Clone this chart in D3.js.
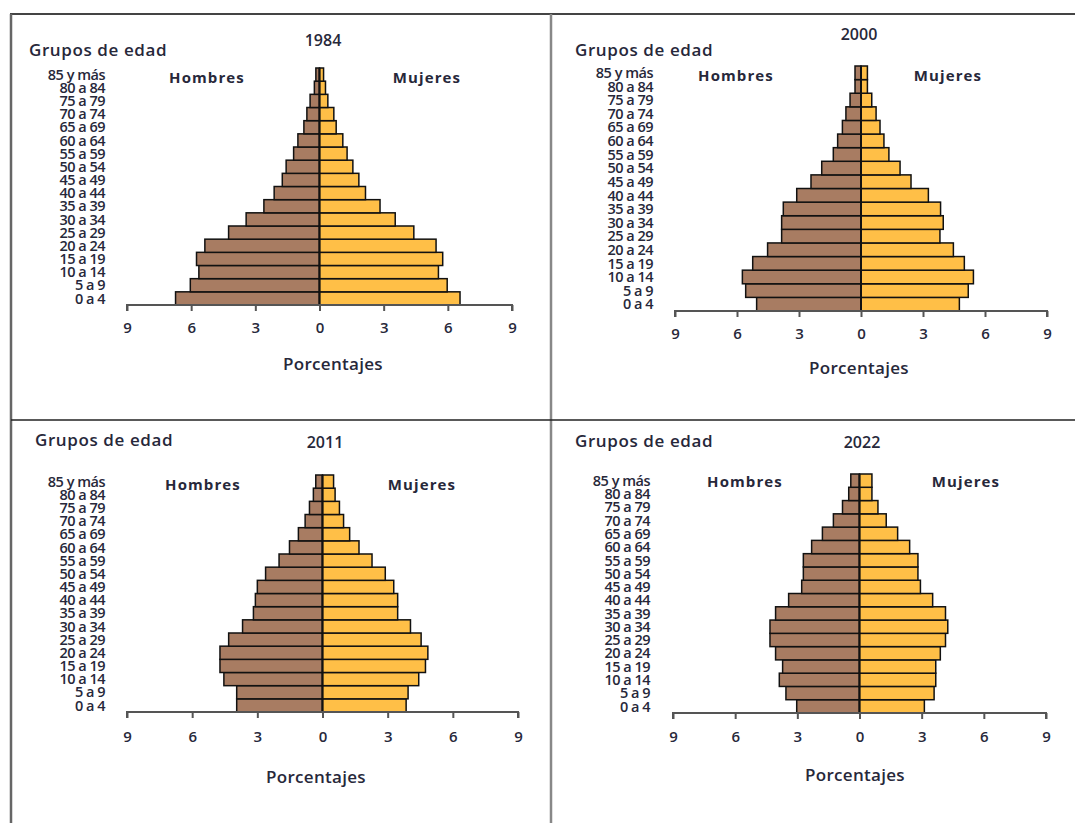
<!DOCTYPE html>
<html>
<head>
<meta charset="utf-8">
<script src="https://cdn.jsdelivr.net/npm/d3@7"></script>
<style>
  html, body { margin: 0; padding: 0; background: #fff; }
  svg text { font-family: "Open Sans", "Noto Sans", sans-serif; fill: #27283a; }
</style>
</head>
<body>
<svg id="chart" width="1075" height="823"></svg>
<script>
// ---- Data ----
const ageGroups = ["0 a 4","5 a 9","10 a 14","15 a 19","20 a 24","25 a 29","30 a 34","35 a 39",
  "40 a 44","45 a 49","50 a 54","55 a 59","60 a 64","65 a 69","70 a 74","75 a 79","80 a 84","85 y más"];
const tickValues = [-9, -6, -3, 0, 3, 6, 9];
const years = ["1984", "2000", "2011", "2022"];

const hombres1984 = [6.73, 6.04, 5.64, 5.75, 5.36, 4.25, 3.43, 2.60, 2.12, 1.74, 1.56, 1.21, 1.01, 0.73, 0.59, 0.44, 0.24, 0.17];
const mujeres1984 = [6.57, 5.97, 5.56, 5.76, 5.45, 4.41, 3.54, 2.83, 2.15, 1.84, 1.56, 1.29, 1.09, 0.78, 0.67, 0.39, 0.28, 0.19];

const hombres2000 = [5.05, 5.58, 5.74, 5.24, 4.52, 3.84, 3.84, 3.76, 3.11, 2.42, 1.90, 1.34, 1.13, 0.90, 0.73, 0.53, 0.29, 0.29];
const mujeres2000 = [4.76, 5.19, 5.44, 5.00, 4.47, 3.82, 3.98, 3.85, 3.26, 2.42, 1.89, 1.35, 1.11, 0.92, 0.73, 0.52, 0.31, 0.31];

const hombres2011 = [3.95, 3.95, 4.54, 4.72, 4.72, 4.32, 3.68, 3.18, 3.09, 3.00, 2.62, 2.00, 1.52, 1.11, 0.80, 0.60, 0.42, 0.31];
const mujeres2011 = [3.85, 3.94, 4.43, 4.74, 4.85, 4.54, 4.05, 3.46, 3.46, 3.28, 2.89, 2.28, 1.68, 1.25, 0.97, 0.78, 0.58, 0.51];

const hombres2022 = [3.03, 3.55, 3.87, 3.71, 4.05, 4.32, 4.32, 4.05, 3.42, 2.79, 2.71, 2.71, 2.31, 1.79, 1.26, 0.82, 0.52, 0.42];
const mujeres2022 = [3.13, 3.60, 3.68, 3.68, 3.90, 4.15, 4.26, 4.15, 3.53, 2.94, 2.82, 2.82, 2.42, 1.84, 1.29, 0.89, 0.60, 0.60];

const seriesByYear = {
  "1984": [hombres1984, mujeres1984],
  "2000": [hombres2000, mujeres2000],
  "2011": [hombres2011, mujeres2011],
  "2022": [hombres2022, mujeres2022]
};

// ---- Layout (positions only) ----
const panels = [
  { year: "1984", xl: 127, xr: 512, top: 68,  axisY: 305, labX: 105, title: [323, 40], grupos: [29, 50],  hom: [207, 78],  muj: [427, 78],  tickY: 328, porc: [333, 364] },
  { year: "2000", xl: 675, xr: 1047, top: 66, axisY: 311, labX: 653, title: [859, 34], grupos: [575, 50], hom: [736, 76],  muj: [948, 76],  tickY: 334, porc: [859, 368] },
  { year: "2011", xl: 127, xr: 518, top: 475, axisY: 712, labX: 105, title: [325, 442], grupos: [35, 440], hom: [203, 485], muj: [422, 485], tickY: 737, porc: [316, 777] },
  { year: "2022", xl: 673, xr: 1046, top: 474, axisY: 713, labX: 650, title: [862, 442], grupos: [575, 441], hom: [745, 482], muj: [966, 482], tickY: 737, porc: [855, 775] }
];

const colorH = "#a87c62";
const colorM = "#ffbf47";

const svg = d3.select("#chart");

// Frame lines
svg.append("line").attr("x1", 10).attr("x2", 1075).attr("y1", 14).attr("y2", 14)
  .attr("stroke", "#444").attr("stroke-width", 2);
svg.append("line").attr("x1", 11).attr("x2", 11).attr("y1", 14).attr("y2", 823)
  .attr("stroke", "#666").attr("stroke-width", 2.5);
svg.append("line").attr("x1", 551).attr("x2", 551).attr("y1", 14).attr("y2", 823)
  .attr("stroke", "#888").attr("stroke-width", 2.5);
svg.append("line").attr("x1", 11).attr("x2", 1075).attr("y1", 420).attr("y2", 420)
  .attr("stroke", "#222").attr("stroke-width", 1.3);

panels.forEach(p => {
  const [hom, muj] = seriesByYear[p.year];
  const g = svg.append("g");

  const x = d3.scaleLinear().domain([-9, 9]).range([p.xl, p.xr]);
  const y = d3.scaleBand().domain(ageGroups.slice().reverse()).range([p.top, p.axisY]).padding(0);

  // Bars
  g.selectAll("rect.h").data(ageGroups).join("rect")
    .attr("x", (d, i) => x(-hom[i]))
    .attr("y", d => y(d))
    .attr("width", (d, i) => x(0) - x(-hom[i]))
    .attr("height", y.bandwidth())
    .attr("fill", colorH).attr("stroke", "#111").attr("stroke-width", 1.5);

  g.selectAll("rect.m").data(ageGroups).join("rect")
    .attr("x", x(0))
    .attr("y", d => y(d))
    .attr("width", (d, i) => x(muj[i]) - x(0))
    .attr("height", y.bandwidth())
    .attr("fill", colorM).attr("stroke", "#111").attr("stroke-width", 1.5);

  // zero line
  g.append("line").attr("x1", x(0)).attr("x2", x(0)).attr("y1", p.top).attr("y2", p.axisY)
    .attr("stroke", "#111").attr("stroke-width", 2);

  // Axis
  const axis = d3.axisBottom(x).tickValues(tickValues).tickSize(6).tickFormat(d => Math.abs(d));
  const ag = g.append("g").attr("transform", `translate(0,${p.axisY})`).call(axis);
  ag.select(".domain").attr("stroke", "#555").attr("stroke-width", 2).attr("d", `M${p.xl},6V0H${p.xr}V6`);
  ag.selectAll(".tick line").attr("stroke", "#555").attr("stroke-width", 2);
  ag.selectAll(".tick text").attr("y", p.tickY - p.axisY).attr("dy", "0.35em")
    .style("font-size", "15px").style("font-weight", 600).style("font-family", "\"Open Sans\", sans-serif");

  // Age labels
  g.selectAll("text.age").data(ageGroups).join("text")
    .attr("x", p.labX)
    .attr("y", d => y(d) + y.bandwidth() / 2)
    .attr("dy", "0.36em")
    .attr("text-anchor", "end")
    .style("font-size", "14.5px").style("font-weight", 600).style("letter-spacing", "-0.5px")
    .text(d => d);

  // Titles
  g.append("text").attr("x", p.grupos[0]).attr("y", p.grupos[1]).attr("dy", "0.35em")
    .style("font-size", "17px").style("font-weight", 600).style("letter-spacing", "0.6px").text("Grupos de edad");
  g.append("text").attr("x", p.title[0]).attr("y", p.title[1]).attr("dy", "0.35em").attr("text-anchor", "middle")
    .style("font-size", "16px").style("font-weight", 600).text(p.year);
  g.append("text").attr("x", p.hom[0]).attr("y", p.hom[1]).attr("dy", "0.35em").attr("text-anchor", "middle")
    .style("font-size", "15px").style("font-weight", 700).style("letter-spacing", "1.1px").text("Hombres");
  g.append("text").attr("x", p.muj[0]).attr("y", p.muj[1]).attr("dy", "0.35em").attr("text-anchor", "middle")
    .style("font-size", "15px").style("font-weight", 700).style("letter-spacing", "1.1px").text("Mujeres");
  g.append("text").attr("x", p.porc[0]).attr("y", p.porc[1]).attr("dy", "0.35em").attr("text-anchor", "middle")
    .style("font-size", "17px").style("font-weight", 600).style("letter-spacing", "0.3px").text("Porcentajes");
});
</script>
</body>
</html>
